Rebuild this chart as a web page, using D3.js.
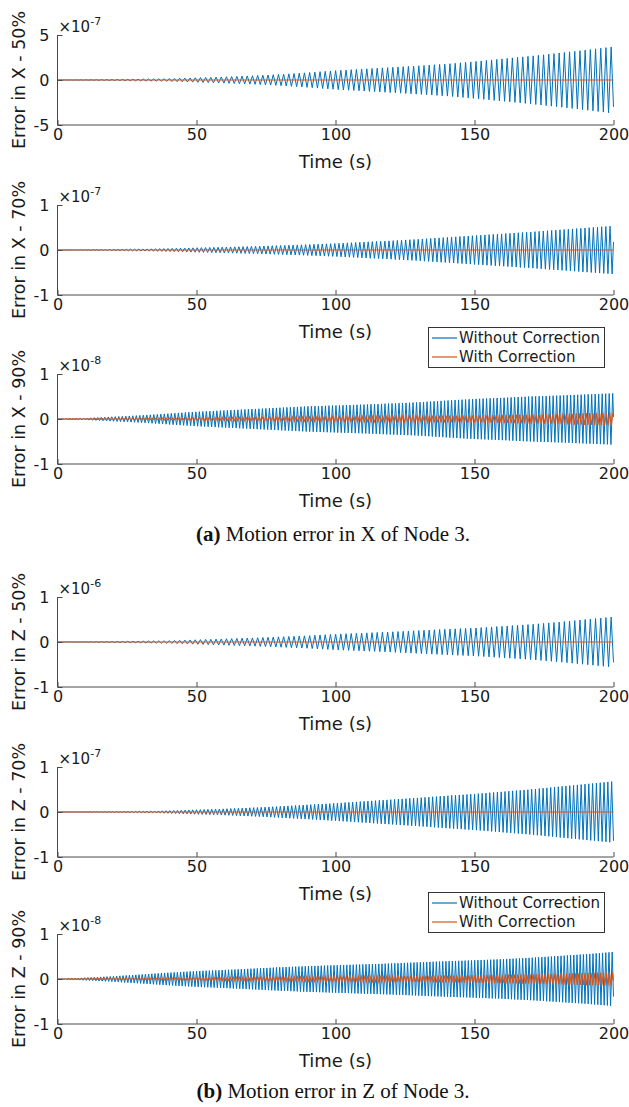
<!DOCTYPE html>
<html>
<head>
<meta charset="utf-8">
<script src="https://cdn.jsdelivr.net/npm/d3@7"></script>
<style>
  body { margin: 0; background: #fff; }
  svg { display: block; }
</style>
</head>
<body>
<svg id="chart" width="629" height="1107"></svg>
<script>
// ---- data -------------------------------------------------------------
const timeTicks = [0, 50, 100, 150, 200];
const envelopeTimes = [0, 10, 20, 30, 40, 50, 60, 70, 80, 90, 100, 110, 120, 130, 140, 150, 160, 170, 180, 190, 200];

// Peak amplitude of each response, every 10 s, in units of the panel's ×10^n factor
const xWithout50 = [0, 0.02, 0.05, 0.1, 0.16, 0.25, 0.35, 0.47, 0.62, 0.82, 1.05, 1.22, 1.4, 1.58, 1.78, 2.05, 2.35, 2.65, 2.98, 3.33, 3.7];
const xWith50    = [0, 0, 0, 0, 0, 0, 0, 0, 0, 0, 0, 0, 0, 0, 0, 0, 0, 0, 0, 0, 0];
const xWithout70 = [0, 0.005, 0.012, 0.022, 0.035, 0.05, 0.065, 0.08, 0.1, 0.12, 0.145, 0.175, 0.205, 0.24, 0.28, 0.32, 0.36, 0.4, 0.445, 0.49, 0.535];
const xWith70    = [0, 0, 0, 0, 0, 0, 0, 0, 0, 0, 0, 0, 0, 0, 0, 0, 0, 0, 0, 0, 0];
const xWithout90 = [0, 0.02, 0.05, 0.08, 0.12, 0.16, 0.19, 0.22, 0.25, 0.28, 0.3, 0.32, 0.345, 0.37, 0.41, 0.445, 0.47, 0.5, 0.52, 0.545, 0.57];
const xWith90    = [0, 0.005, 0.01, 0.015, 0.02, 0.028, 0.035, 0.04, 0.045, 0.05, 0.055, 0.06, 0.065, 0.07, 0.075, 0.08, 0.09, 0.1, 0.115, 0.13, 0.145];
const zWithout50 = [0, 0.004, 0.01, 0.018, 0.03, 0.05, 0.07, 0.09, 0.115, 0.14, 0.175, 0.2, 0.225, 0.255, 0.285, 0.31, 0.35, 0.39, 0.44, 0.5, 0.56];
const zWith50    = [0, 0, 0, 0, 0, 0, 0, 0, 0, 0, 0, 0, 0, 0, 0, 0, 0, 0, 0, 0, 0];
const zWithout70 = [0, 0.003, 0.008, 0.015, 0.03, 0.05, 0.07, 0.095, 0.125, 0.16, 0.195, 0.235, 0.275, 0.315, 0.36, 0.4, 0.45, 0.5, 0.56, 0.62, 0.68];
const zWith70    = [0, 0, 0, 0, 0, 0, 0, 0, 0, 0, 0, 0, 0, 0, 0, 0, 0, 0, 0, 0, 0];
const zWithout90 = [0, 0.03, 0.06, 0.1, 0.14, 0.175, 0.2, 0.23, 0.26, 0.285, 0.305, 0.325, 0.345, 0.37, 0.395, 0.415, 0.44, 0.47, 0.51, 0.55, 0.6];
const zWith90    = [0, 0.005, 0.01, 0.015, 0.02, 0.028, 0.035, 0.04, 0.045, 0.05, 0.055, 0.06, 0.065, 0.07, 0.075, 0.085, 0.095, 0.105, 0.12, 0.135, 0.15];

// Oscillation period of each response (s)
const periodsWithout = [1.87, 1.5, 1.26, 1.87, 1.37, 1.15];
const periodsWith    = [1.87, 1.5, 1.2, 1.87, 1.37, 1.1];

const panelLabels = ["Error in X - 50%", "Error in X - 70%", "Error in X - 90%",
                     "Error in Z - 50%", "Error in Z - 70%", "Error in Z - 90%"];
const panelExponents = [-7, -7, -8, -6, -7, -8];
const panelLimits = [5, 1, 1, 1, 1, 1];
const legendLabels = ["Without Correction", "With Correction"];
const captionTags = ["(a)", "(b)"];
const captionTexts = ["Motion error in X of Node 3.", "Motion error in Z of Node 3."];
const xLabel = "Time (s)";

const withoutSeries = [xWithout50, xWithout70, xWithout90, zWithout50, zWithout70, zWithout90];
const withSeries    = [xWith50, xWith70, xWith90, zWith50, zWith70, zWith90];

// ---- layout ------------------------------------------------------------
const colors = { without: "#0072BD", with: "#D95319" };
const axisColor = "#4a4a4a";
const textColor = "#1a1a1a";
const sans = "'DejaVu Sans', sans-serif";
const serif = "'Liberation Serif', serif";
const panelTops = [35, 205, 374, 597, 767, 934];
const plotH = 90;
const plotLeft = 57.5, plotRight = 613.5;
const legendTops = [327, 892];
const captionBaselines = [541, 1098];
const fmt = d => String(d);   // plain hyphen for negatives

const svg = d3.select("#chart");
const x = d3.scaleLinear().domain([0, 200]).range([plotLeft, plotRight]);

// Alternating peaks/troughs of an oscillation whose peak envelope is given
function oscillation(peaks, period) {
  const env = d3.scaleLinear().domain(envelopeTimes).range(peaks);
  const half = period / 2;
  const pts = [];
  let k = 0;
  for (; k * half <= 200; k++) {
    const t = k * half;
    pts.push([t, (k % 2 ? 1 : -1) * env(t)]);
  }
  const last = pts[pts.length - 1];
  const frac = (200 - last[0]) / half;
  const next = (k % 2 ? 1 : -1) * env(200);
  pts.push([200, last[1] + (next - last[1]) * frac]);
  return pts;
}

panelTops.forEach((top, i) => {
  const lim = panelLimits[i];
  const y = d3.scaleLinear().domain([-lim, lim]).range([top + plotH, top]);
  const g = svg.append("g");

  const line = d3.line().x(d => x(d[0])).y(d => y(d[1]));
  g.append("path")
    .datum(oscillation(withoutSeries[i], periodsWithout[i]))
    .attr("d", line).attr("fill", "none")
    .attr("stroke", colors.without).attr("stroke-width", 1);
  g.append("path")
    .datum(oscillation(withSeries[i], periodsWith[i]))
    .attr("d", line).attr("fill", "none")
    .attr("stroke", colors.with).attr("stroke-width", 1.1);

  // x axis
  const xa = g.append("g").attr("transform", `translate(0,${top + plotH})`)
    .call(d3.axisBottom(x).tickValues(timeTicks).tickSize(-5).tickPadding(5).tickFormat(fmt));
  xa.select(".domain").attr("stroke", axisColor).attr("d", `M${plotLeft},0H${plotRight}`);
  xa.selectAll(".tick line").attr("stroke", axisColor);
  xa.selectAll(".tick text").attr("fill", textColor)
    .style("font-family", sans).style("font-size", "16px").attr("y", 3).attr("dy", "0.72em");

  // y axis
  const ya = g.append("g").attr("transform", `translate(${plotLeft},0)`)
    .call(d3.axisLeft(y).tickValues([-lim, 0, lim]).tickSize(-5).tickPadding(8).tickFormat(fmt));
  ya.select(".domain").attr("stroke", axisColor).attr("d", `M0,${top}V${top + plotH}`);
  ya.selectAll(".tick line").attr("stroke", axisColor);
  ya.selectAll(".tick text").attr("fill", textColor)
    .style("font-family", sans).style("font-size", "16px");

  // exponent factor
  const ex = g.append("text").attr("x", plotLeft + 1).attr("y", top - 3)
    .attr("fill", textColor).style("font-family", sans).style("font-size", "15px");
  ex.append("tspan").text("×10");
  ex.append("tspan").attr("dy", -7).style("font-size", "11px").text(String(panelExponents[i]));

  // axis titles
  g.append("text").attr("x", x(100)).attr("y", top + plotH + 43)
    .attr("text-anchor", "middle").attr("fill", textColor)
    .style("font-family", sans).style("font-size", "18px").text(xLabel);
  g.append("text").attr("transform", `translate(25,${top + plotH / 2}) rotate(-90)`)
    .attr("text-anchor", "middle").attr("fill", textColor)
    .style("font-family", sans).style("font-size", "17.5px").text(panelLabels[i]);
});

// legends
legendTops.forEach(top => {
  const lg = svg.append("g");
  lg.append("rect").attr("x", 428.5).attr("y", top + 0.5).attr("width", 176).attr("height", 40)
    .attr("fill", "#fff").attr("stroke", "#333").attr("stroke-width", 1);
  [colors.without, colors.with].forEach((c, j) => {
    const cy = top + 11 + j * 19;
    lg.append("line").attr("x1", 432).attr("x2", 457).attr("y1", cy).attr("y2", cy)
      .attr("stroke", c).attr("stroke-width", 1.2);
    lg.append("text").attr("x", 459).attr("y", cy + 5.4).attr("fill", textColor)
      .style("font-family", sans).style("font-size", "15px").text(legendLabels[j]);
  });
});

// sub-figure captions
captionBaselines.forEach((b, i) => {
  const t = svg.append("text").attr("x", 333).attr("y", b).attr("text-anchor", "middle")
    .attr("fill", "#111").style("font-family", serif).style("font-size", "21px");
  t.append("tspan").style("font-weight", "bold").text(captionTags[i]);
  t.append("tspan").text(" " + captionTexts[i]);
});
</script>
</body>
</html>
